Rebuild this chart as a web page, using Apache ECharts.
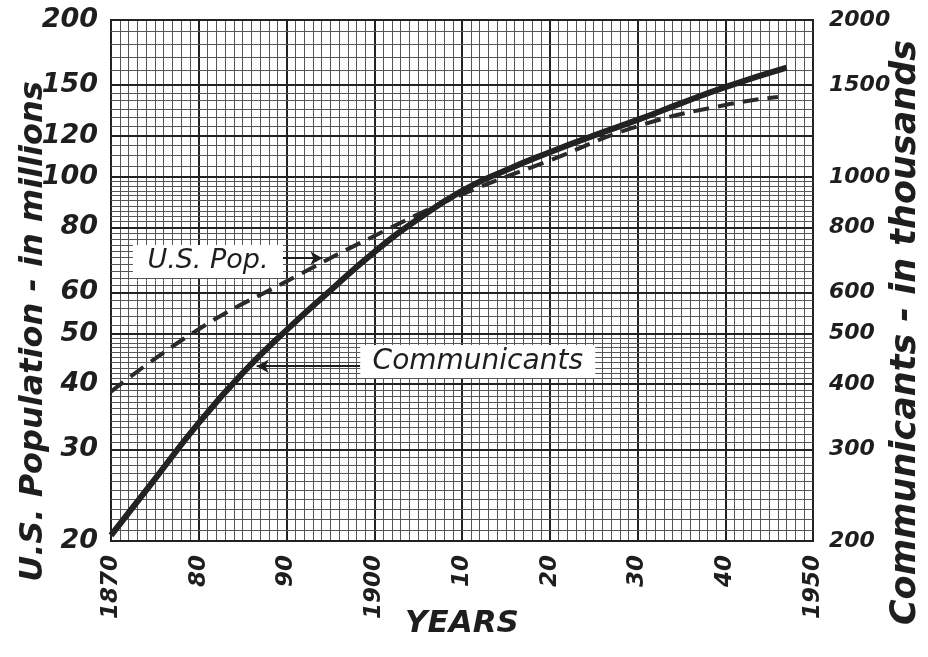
<!DOCTYPE html>
<html><head><meta charset="utf-8">
<script src="https://cdn.jsdelivr.net/npm/echarts@6/dist/echarts.min.js"></script>
<style>html,body{margin:0;padding:0;background:#fff}#c{width:928px;height:657px}</style>
</head><body><div id="c"></div>
<script>
// ---- data ----
const popYears = [1870, 1880, 1890, 1900, 1910, 1920, 1930, 1940, 1946];
const popValues = [38.7, 51, 63, 77, 92.5, 107.5, 125, 137.4, 142.3]; // millions
const commYears = [1870, 1875, 1880, 1885, 1890, 1895, 1900, 1905, 1910, 1915, 1920, 1925, 1930, 1935, 1940, 1947];
const commValues = [205, 263, 337, 420, 508, 605, 717, 830, 940, 1030, 1115, 1200, 1286, 1385, 1487, 1620]; // thousands
const xTickYears = [1870, 1880, 1890, 1900, 1910, 1920, 1930, 1940, 1950];
const xTickLabels = ['1870', '80', '90', '1900', '10', '20', '30', '40', '1950'];
const leftTicks = [20, 30, 40, 50, 60, 80, 100, 120, 150, 200];
const rightTicks = [200, 300, 400, 500, 600, 800, 1000, 1500, 2000];
const leftMinorRanges = [[20, 50, 1], [50, 100, 2], [100, 150, 5], [150, 200, 10]];

const FONT = 'DejaVu Sans';
const ink = '#1e1e1e';
const txt = (size, bold) => ({fontFamily: FONT, fontStyle: 'italic', fontWeight: bold ? 'bold' : 'normal', fontSize: size, color: ink});

const minorVals = [];
leftMinorRanges.forEach(([a, b, s]) => { for (let v = a + s; v < b; v += s) minorVals.push(v); });

const gridLines = [];
minorVals.forEach(v => gridLines.push({yAxis: v, lineStyle: {color: '#555', width: 1, type: 'solid'}, label: {show: false}}));
leftTicks.forEach(v => gridLines.push({yAxis: v, lineStyle: {color: '#222', width: 2, type: 'solid'},
  label: Object.assign({show: true, position: 'start', distance: 13, formatter: String(v)}, txt(27, true))}));

const rightLabels = rightTicks.map(v => ({yAxis: v, lineStyle: {color: 'rgba(0,0,0,0)', width: 0},
  label: Object.assign({show: true, position: 'end', distance: 16, formatter: String(v)}, txt(22, true))}));

const zip = (a, b) => a.map((x, i) => [x, b[i]]);

const option = {
  animation: false,
  backgroundColor: '#fff',
  grid: {left: 111, right: 115, top: 20, bottom: 116, containLabel: false, outerBoundsMode: 'none',
    show: true, borderColor: '#222', borderWidth: 2, backgroundColor: 'transparent'},
  xAxis: {
    type: 'value', min: 1870, max: 1950, interval: 10,
    axisLine: {show: false}, axisTick: {show: false},
    splitLine: {show: true, lineStyle: {color: '#222', width: 2}},
    minorTick: {show: false, splitNumber: 10},
    minorSplitLine: {show: true, lineStyle: {color: '#555', width: 1}},
    axisLabel: Object.assign({rotate: 90, margin: 14, formatter: v => xTickLabels[xTickYears.indexOf(v)] || ''}, txt(23, true)),
    name: 'YEARS', nameLocation: 'middle', nameGap: 67, nameMoveOverlap: false,
    nameTextStyle: txt(31, true)
  },
  yAxis: [{
    type: 'log', logBase: 10, min: 20, max: 200,
    axisLine: {show: false}, axisTick: {show: false}, axisLabel: {show: false}, splitLine: {show: false},
    name: 'U.S. Population - in millions', nameLocation: 'middle', nameGap: 61, nameRotate: 90,
    nameTextStyle: Object.assign({padding: [0, 102, 0, 0]}, txt(32, true))
  }, {
    type: 'log', logBase: 10, min: 200, max: 2000, position: 'right',
    axisLine: {show: false}, axisTick: {show: false}, axisLabel: {show: false}, splitLine: {show: false},
    name: 'Communicants - in thousands', nameLocation: 'middle', nameGap: 75, nameRotate: 90,
    nameTextStyle: Object.assign({padding: [0, 104, 0, 0]}, txt(35, true))
  }],
  series: [{
    name: 'grid', type: 'line', yAxisIndex: 0, data: zip(popYears, popValues), silent: true,
    showSymbol: false, lineStyle: {opacity: 0}, z: 1,
    markLine: {silent: true, symbol: 'none', z: 1, animation: false, data: gridLines}
  }, {
    name: 'rightLabels', type: 'line', yAxisIndex: 1, data: zip(commYears, commValues), silent: true,
    showSymbol: false, lineStyle: {opacity: 0}, z: 1,
    markLine: {silent: true, symbol: 'none', z: 1, animation: false, data: rightLabels}
  }, {
    name: 'U.S. Pop.', type: 'line', yAxisIndex: 0, data: zip(popYears, popValues), smooth: 0.5,
    showSymbol: false, z: 4, lineStyle: {color: '#2a2a2a', width: 4, type: [16, 9]},
    markPoint: {silent: true, z: 6, symbolSize: 0, data: [{coord: [1881.05, 68.8], value: 'U.S. Pop.',
      label: Object.assign({show: true, position: 'inside', formatter: 'U.S. Pop.', backgroundColor: '#fff',
        width: 150, height: 33, align: 'center', verticalAlign: 'middle', lineHeight: 33}, txt(27, false))}]},
    markLine: {silent: true, z: 6, symbol: ['none', 'arrow'], symbolSize: [10, 12],
      lineStyle: {color: ink, width: 2, type: 'solid'}, label: {show: false},
      data: [[{coord: [1889.5, 69.8]}, {coord: [1894.1, 69.8]}]]}
  }, {
    name: 'Communicants', type: 'line', yAxisIndex: 1, data: zip(commYears, commValues), smooth: 0.5,
    showSymbol: false, z: 5, lineStyle: {color: '#222', width: 6},
    markPoint: {silent: true, z: 6, symbolSize: 0, data: [{coord: [1911.8, 442], value: 'Communicants',
      label: Object.assign({show: true, position: 'inside', formatter: 'Communicants', backgroundColor: '#fff',
        width: 235, height: 33, align: 'center', verticalAlign: 'middle', lineHeight: 33}, txt(28, false))}]},
    markLine: {silent: true, z: 6, symbol: ['none', 'arrow'], symbolSize: [10, 12],
      lineStyle: {color: ink, width: 2, type: 'solid'}, label: {show: false},
      data: [[{coord: [1898.4, 433]}, {coord: [1886.6, 433]}]]}
  }]
};
const chart = echarts.init(document.getElementById('c'), null, {renderer: 'canvas'});
chart.setOption(option);
</script></body></html>
